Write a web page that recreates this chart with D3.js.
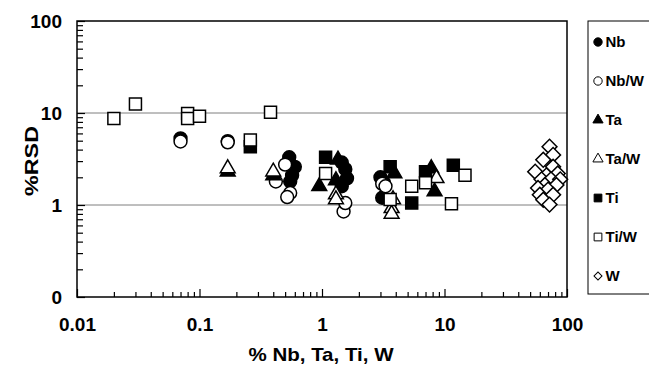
<!DOCTYPE html>
<html>
<head>
<meta charset="utf-8">
<script src="https://cdn.jsdelivr.net/npm/d3@7"></script>
<style>
  body { margin: 0; background: #fff; }
  svg text { font-family: "Liberation Sans", Arial, sans-serif; font-weight: bold; fill: #000; }
</style>
</head>
<body>
<div id="chart"></div>
<script>
// data: [% element, %RSD]
const nb = [[0.07, 5.3], [0.17, 4.95], [0.54, 3.3], [0.6, 2.6], [0.57, 2.1], [0.55, 1.8],
  [1.45, 2.9], [1.55, 2.45], [1.6, 1.95], [1.45, 1.6], [3.0, 2.0], [3.2, 1.75], [3.1, 1.2]];
const nbW = [[0.07, 4.9], [0.17, 4.8], [0.5, 2.75], [0.42, 1.8], [0.55, 1.35], [0.52, 1.22],
  [1.5, 0.85], [1.55, 1.05], [3.1, 1.7], [3.3, 1.6]];
const ta = [[0.17, 2.3], [0.4, 2.1], [1.35, 3.1], [0.95, 1.6], [1.3, 1.85], [3.9, 2.2],
  [7.8, 2.5], [8.3, 1.4]];
const taW = [[0.17, 2.5], [0.4, 2.3], [1.3, 1.3], [1.3, 1.15], [3.8, 1.15], [3.7, 0.92],
  [3.7, 0.8], [8.6, 1.95]];
const ti = [[0.26, 4.3], [1.07, 3.3], [3.6, 2.6], [5.4, 1.05], [7.0, 2.3], [11.8, 2.7]];
const tiW = [[0.02, 8.7], [0.03, 12.5], [0.08, 9.9], [0.08, 8.7], [0.1, 9.2], [0.38, 10.2],
  [0.26, 5.1], [1.07, 2.2], [3.6, 1.15], [5.4, 1.6], [7.0, 1.75], [11.4, 1.03], [14.7, 2.1]];
const w = [[72, 4.3], [77, 3.5], [64, 3.1], [77, 2.6], [55, 2.3], [84, 2.2], [68, 2.1],
  [62, 1.9], [74, 1.9], [88, 1.9], [66, 1.65], [82, 1.65], [58, 1.53], [70, 1.47],
  [60, 1.29], [77, 1.29], [64, 1.14], [72, 1.01]];

const seriesNames = ['Nb', 'Nb/W', 'Ta', 'Ta/W', 'Ti', 'Ti/W', 'W'];
const seriesData = [nb, nbW, ta, taW, ti, tiW, w];

const xTicks = [0.01, 0.1, 1, 10, 100];
const xTickLabels = ['0.01', '0.1', '1', '10', '100'];
const yTicks = [0.1, 1, 10, 100];
const yTickLabels = ['0', '1', '10', '100'];
const gridValues = [1, 10];

const width = 649, height = 367;
const plot = { left: 77, right: 567, top: 21, bottom: 297 };

const svg = d3.select('#chart').append('svg')
  .attr('width', width)
  .attr('height', height);

svg.append('rect').attr('width', width).attr('height', height).attr('fill', '#fff');

const x = d3.scaleLog().domain([0.01, 100]).range([plot.left, plot.right]);
const y = d3.scaleLog().domain([0.1, 100]).range([plot.bottom, plot.top]);

// minor ticks 2..9 in each decade
function minors(domain) {
  const out = [];
  for (let d = domain[0]; d < domain[1]; d *= 10) {
    for (let k = 2; k <= 9; k++) out.push(d * k);
  }
  return out;
}

// gridlines
svg.append('g')
  .selectAll('line')
  .data(gridValues)
  .enter().append('line')
  .attr('x1', plot.left).attr('x2', plot.right)
  .attr('y1', d => y(d)).attr('y2', d => y(d))
  .attr('stroke', '#7f7f7f')
  .attr('stroke-width', 1);

// frame
svg.append('rect')
  .attr('x', plot.left).attr('y', plot.top)
  .attr('width', plot.right - plot.left)
  .attr('height', plot.bottom - plot.top)
  .attr('fill', 'none')
  .attr('stroke', '#000')
  .attr('stroke-width', 1.5);

// x axis
const xMinor = svg.append('g')
  .attr('transform', `translate(0,${plot.bottom})`)
  .call(d3.axisBottom(x).tickValues(minors([0.01, 100])).tickSize(-5).tickFormat(''));
const xMajor = svg.append('g')
  .attr('transform', `translate(0,${plot.bottom})`)
  .call(d3.axisBottom(x).tickValues(xTicks).tickSize(-8).tickPadding(21)
    .tickFormat((d, i) => xTickLabels[i]));

// y axis
const yMinor = svg.append('g')
  .attr('transform', `translate(${plot.left},0)`)
  .call(d3.axisLeft(y).tickValues(minors([0.1, 100])).tickSize(-6).tickFormat(''));
const yMajor = svg.append('g')
  .attr('transform', `translate(${plot.left},0)`)
  .call(d3.axisLeft(y).tickValues(yTicks).tickSize(-8).tickPadding(15)
    .tickFormat((d, i) => yTickLabels[i]));

[xMinor, xMajor, yMinor, yMajor].forEach(g => {
  g.select('.domain').remove();
  g.selectAll('line').attr('stroke', '#000').attr('stroke-width', 1.2);
});
xMajor.selectAll('text').attr('font-size', 19).attr('font-family', null);
yMajor.selectAll('text').attr('font-size', 19).attr('font-family', null).attr('dy', '0.36em');

// axis titles
svg.append('text')
  .attr('x', (plot.left + plot.right) / 2 - 1)
  .attr('y', 361)
  .attr('text-anchor', 'middle')
  .attr('font-size', 19)
  .attr('textLength', 145)
  .attr('lengthAdjust', 'spacingAndGlyphs')
  .text('% Nb, Ta, Ti, W');

svg.append('text')
  .attr('transform', `translate(38,${(plot.top + plot.bottom) / 2 + 2}) rotate(-90)`)
  .attr('text-anchor', 'middle')
  .attr('font-size', 19)
  .attr('textLength', 70)
  .attr('lengthAdjust', 'spacingAndGlyphs')
  .text('%RSD');

// marker styles per series
const styles = [
  { type: d3.symbolCircle, size: 130, fill: '#000', rot: 0 },
  { type: d3.symbolCircle, size: 130, fill: '#fff', rot: 0 },
  { type: d3.symbolTriangle, size: 95, fill: '#000', rot: 0 },
  { type: d3.symbolTriangle, size: 95, fill: '#fff', rot: 0 },
  { type: d3.symbolSquare, size: 144, fill: '#000', rot: 0 },
  { type: d3.symbolSquare, size: 144, fill: '#fff', rot: 0 },
  { type: d3.symbolSquare, size: 110, fill: '#fff', rot: 45 }
];

const points = svg.append('g').attr('class', 'points');
seriesData.forEach((data, i) => {
  const s = styles[i];
  points.append('g')
    .selectAll('path')
    .data(data)
    .enter().append('path')
    .attr('d', d3.symbol().type(s.type).size(s.size))
    .attr('transform', d => `translate(${x(d[0])},${y(d[1])}) rotate(${s.rot})`)
    .attr('fill', s.fill)
    .attr('stroke', '#000')
    .attr('stroke-width', 1.5);
});

// legend
const legend = svg.append('g');
legend.append('rect')
  .attr('x', 588).attr('y', 21)
  .attr('width', 80).attr('height', 273)
  .attr('fill', '#fff')
  .attr('stroke', '#000')
  .attr('stroke-width', 1);

const legendScale = d3.scalePoint().domain(seriesNames).range([42, 276]);
const legendSizes = [55, 55, 45, 45, 60, 60, 32];

const item = legend.selectAll('.item')
  .data(seriesNames)
  .enter().append('g')
  .attr('class', 'item')
  .attr('transform', d => `translate(598,${legendScale(d)})`);

item.append('path')
  .attr('d', (d, i) => d3.symbol().type(styles[i].type).size(legendSizes[i])())
  .attr('transform', (d, i) => `rotate(${styles[i].rot})`)
  .attr('fill', (d, i) => styles[i].fill)
  .attr('stroke', '#000')
  .attr('stroke-width', 1);

item.append('text')
  .attr('x', 7.5)
  .attr('dy', '0.36em')
  .attr('font-size', 15)
  .text(d => d);
</script>
</body>
</html>
